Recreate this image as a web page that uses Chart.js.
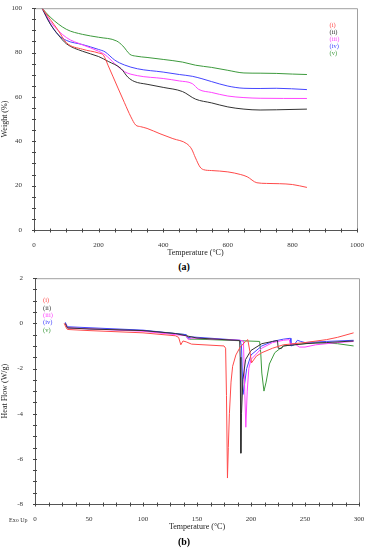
<!DOCTYPE html>
<html><head><meta charset="utf-8">
<script src="https://cdn.jsdelivr.net/npm/chart.js@4.4.1/dist/chart.umd.min.js"></script>
<style>
html,body{margin:0;padding:0;background:#fff;width:368px;height:550px;overflow:hidden;font-family:"Liberation Serif",serif;}
#c1wrap{position:absolute;left:0;top:0;width:368px;height:258px;}
#c2wrap{position:absolute;left:0;top:270px;width:368px;height:262px;}
.cap{position:absolute;width:368px;text-align:center;font-weight:bold;font-size:10px;color:#000;}
#exo{position:absolute;left:9px;top:517px;font-size:6px;color:#333;}
</style></head><body>
<div id="c1wrap"><canvas id="c1" width="368" height="258"></canvas></div>
<div class="cap" style="top:261px">(a)</div>
<div id="c2wrap"><canvas id="c2" width="368" height="262"></canvas></div>
<div id="exo">Exo Up</div>
<div class="cap" style="top:536px">(b)</div>
<script>
// ---------- Data ----------
const seriesNames = ["(i)", "(ii)", "(iii)", "(iv)", "(v)"];
const seriesColors = ["#ff4a4a", "#333333", "#ff44ff", "#4545ff", "#3d9a3d"];

// TGA (a): temperature (°C) and weight (%)
const tgaTemp_i   = [25,50,75,100,150,200,215,230,260,280,300,315,330,350,390,430,473,488,500,514,525,550,600,640,660,690,720,800,845];
const tgaWeight_i = [100,95,90,84.5,81.5,79.8,78.8,74,64,57.4,51,47.3,46.6,45.8,43.4,41.2,38.9,36.5,32.5,28.4,27.2,26.8,26.2,25,24,21.3,21,20.5,19.2];
const tgaTemp_ii   = [25,50,75,100,150,200,230,270,290,310,350,400,460,500,550,600,650,700,750,845];
const tgaWeight_ii = [100,93,88,84,80.6,78.2,76,72.7,69,67,65.7,64.3,62.4,59,57.3,55.5,54.5,54.1,54.2,54.5];
const tgaTemp_iii   = [25,50,100,150,200,220,250,280,320,400,450,490,510,550,600,650,700,845];
const tgaWeight_iii = [100,94,86.8,83.5,80.6,79,75,71.4,69.6,68.3,67.2,66,63.4,62,60.4,59.7,59.4,59.3];
const tgaTemp_iv   = [25,50,75,100,150,200,220,250,280,320,400,450,490,520,550,600,650,700,750,845];
const tgaWeight_iv = [100,93,88,85.5,83.6,81.4,80.3,76.6,74.4,72.7,71.2,70.1,69.3,68.2,66.9,64.9,63.9,63.8,63.9,63.3];
const tgaTemp_v   = [25,50,100,150,200,256,275,297,315,350,400,460,500,550,600,650,700,750,800,845];
const tgaWeight_v = [100,96,90.5,88.2,86.9,85.2,83,79.2,78.4,77.8,76.9,75.7,74.3,73.3,72,70.8,70.7,70.6,70.3,70.1];

// DSC (b): temperature (°C) and heat flow (W/g)
const dscTemp_i = [27,29,30,50,100,130,133,135,137,140,145,175,176.5,177.3,178.2,179,180,181.5,183,186,190,195,197,199,200.5,205,210,220,230,250,270,280,295];
const dscHeat_i = [0,-0.2,-0.27,-0.32,-0.42,-0.55,-0.62,-0.95,-0.78,-0.82,-0.92,-1.0,-1.1,-3.2,-6.85,-5.5,-4.0,-2.6,-1.9,-1.4,-1.05,-0.8,-0.72,-1.25,-1.75,-1.45,-1.3,-1.1,-0.95,-0.85,-0.72,-0.62,-0.42];
const dscTemp_ii = [28,30,50,100,130,140,150,189.5,190,190.6,191.2,192.5,195,200,210,220,224.5,225.2,228,230,240,250,270,295];
const dscHeat_ii = [0,-0.2,-0.25,-0.32,-0.45,-0.55,-0.65,-0.76,-1.5,-5.75,-4.0,-2.5,-1.6,-1.2,-0.9,-0.8,-0.76,-1.1,-1.12,-1.0,-0.95,-0.9,-0.85,-0.78];
const dscTemp_iii = [28,30,100,140,142,145,190,193,194.2,195.2,196.5,198,200,210,220,230,235.5,236.2,240,245,250,260,280,295];
const dscHeat_iii = [0,-0.2,-0.35,-0.55,-0.72,-0.65,-0.75,-0.78,-3.0,-4.6,-3.0,-2.0,-1.6,-1.1,-0.85,-0.75,-0.72,-0.9,-0.9,-1.05,-1.05,-0.95,-0.85,-0.8];
const dscTemp_iv = [28,30,100,140,141,145,190,191.2,192.6,194,196,200,210,220,230,236.5,237,240,243,246,250,270,295];
const dscHeat_iv = [0.05,-0.15,-0.3,-0.5,-0.65,-0.6,-0.75,-1.0,-3.15,-2.7,-2.0,-1.4,-1.0,-0.8,-0.7,-0.66,-1.0,-0.95,-0.75,-0.8,-0.85,-0.8,-0.75];
const dscTemp_v = [28,30,100,140,143,150,208,209,210,212,214,217,222,230,240,260,280,295];
const dscHeat_v = [0,-0.2,-0.32,-0.5,-0.7,-0.7,-0.8,-1.3,-2.2,-3.0,-2.6,-1.8,-1.3,-1.0,-0.95,-0.85,-0.9,-1.0];

// Axis ticks
const tgaXTicks = [0,200,400,600,800,1000];
const tgaYTicks = [0,20,40,60,80,100];
const tgaXMinorStep = 50, tgaYMinorStep = 5;
const dscXTicks = [0,50,100,150,200,250,300];
const dscYTicks = [-8,-6,-4,-2,0,2];
const dscXMinorStep = 12.5, dscYMinorStep = 0.5;

// ---------- Helpers ----------
const pts = (xs, ys) => xs.map((x, i) => ({x, y: ys[i]}));
const FONT = {family: "'Liberation Serif', serif", size: 7};

function frameAndLegend(legendXFrac, legendYFrac, legendStep, xMinor, yMinor) {
  return {
    id: 'frame',
    afterDraw(chart) {
      const {ctx, chartArea: a, scales} = chart;
      ctx.save();
      ctx.lineWidth = 1;
      ctx.strokeStyle = '#a0a0a0';
      ctx.beginPath();
      ctx.moveTo(a.left, a.top + 0.5); ctx.lineTo(a.right + 0.5, a.top + 0.5);
      ctx.lineTo(a.right + 0.5, a.bottom);
      ctx.stroke();
      ctx.strokeStyle = '#555';
      ctx.beginPath();
      ctx.moveTo(a.left + 0.5, a.top); ctx.lineTo(a.left + 0.5, a.bottom + 0.5);
      ctx.lineTo(a.right + 0.5, a.bottom + 0.5);
      ctx.stroke();
      // ticks crossing axes
      ctx.strokeStyle = '#444';
      ctx.beginPath();
      const xs = scales.x, ys = scales.y;
      for (let v = xs.min; v <= xs.max + 1e-9; v += xMinor) {
        const px = Math.round(xs.getPixelForValue(v)) + 0.5;
        ctx.moveTo(px, a.bottom - 1.5); ctx.lineTo(px, a.bottom + 2.5);
      }
      for (let v = ys.min; v <= ys.max + 1e-9; v += yMinor) {
        const py = Math.round(ys.getPixelForValue(v)) + 0.5;
        ctx.moveTo(a.left - 2, py); ctx.lineTo(a.left + 2, py);
      }
      ctx.stroke();
      // legend text
      ctx.font = "6.5px 'Liberation Serif', serif";
      ctx.textBaseline = 'middle';
      const lx = a.left + legendXFrac * (a.right - a.left);
      const ly = a.top + legendYFrac * (a.bottom - a.top);
      seriesNames.forEach((n, i) => {
        ctx.fillStyle = seriesColors[i];
        ctx.fillText(n, lx, ly + i * legendStep);
      });
      ctx.restore();
    }
  };
}

function makeDatasets(xsList, ysList, smooth) {
  return xsList.map((xs, i) => ({
    label: seriesNames[i],
    data: pts(xs, ysList[i]),
    borderColor: seriesColors[i],
    backgroundColor: seriesColors[i],
    borderWidth: 1,
    pointRadius: 0,
    showLine: true,
    fill: false,
    cubicInterpolationMode: smooth ? 'monotone' : 'default',
    tension: 0
  }));
}

function axisCfg(min, max, ticks, title, fixed, isY) {
  return {
    type: 'linear', min, max,
    afterBuildTicks: s => { s.ticks = ticks.map(v => ({value: v})); },
    afterFit: s => { if (isY) s.width = fixed; else s.height = fixed; },
    grid: {display: false},
    border: {display: false},
    ticks: {font: FONT, color: '#333', padding: isY ? 4 : 3, maxRotation: 0, callback: v => String(v)},
    title: {display: true, text: title, font: {family: "'Liberation Serif', serif", size: 8}, color: '#222', padding: isY ? {top:0,bottom:6} : {top:4,bottom:0}}
  };
}

Chart.defaults.animation = false;

// ---------- Chart (a) ----------
new Chart(document.getElementById('c1'), {
  type: 'scatter',
  data: {datasets: makeDatasets(
    [tgaTemp_i, tgaTemp_ii, tgaTemp_iii, tgaTemp_iv, tgaTemp_v],
    [tgaWeight_i, tgaWeight_ii, tgaWeight_iii, tgaWeight_iv, tgaWeight_v], true)},
  options: {
    responsive: false,
    layout: {padding: {left: 0, right: 11, top: 7, bottom: 0}},
    plugins: {legend: {display: false}, tooltip: {enabled: false}},
    scales: {
      x: axisCfg(0, 1000, tgaXTicks, 'Temperature (°C)', 28, false),
      y: axisCfg(0, 100, tgaYTicks, 'Weight (%)', 34, true)
    }
  },
  plugins: [frameAndLegend(0.915, 0.075, 7, tgaXMinorStep, tgaYMinorStep)]
});

// ---------- Chart (b) ----------
new Chart(document.getElementById('c2'), {
  type: 'scatter',
  data: {datasets: makeDatasets(
    [dscTemp_i, dscTemp_ii, dscTemp_iii, dscTemp_iv, dscTemp_v],
    [dscHeat_i, dscHeat_ii, dscHeat_iii, dscHeat_iv, dscHeat_v], false)},
  options: {
    responsive: false,
    layout: {padding: {left: 0, right: 9, top: 8, bottom: 0}},
    plugins: {legend: {display: false}, tooltip: {enabled: false}},
    scales: {
      x: axisCfg(0, 300, dscXTicks, 'Temperature (°C)', 28, false),
      y: axisCfg(-8, 2, dscYTicks, 'Heat Flow (W/g)', 35, true)
    }
  },
  plugins: [frameAndLegend(0.025, 0.1, 7.3, dscXMinorStep, dscYMinorStep)]
});
</script>
</body></html>
